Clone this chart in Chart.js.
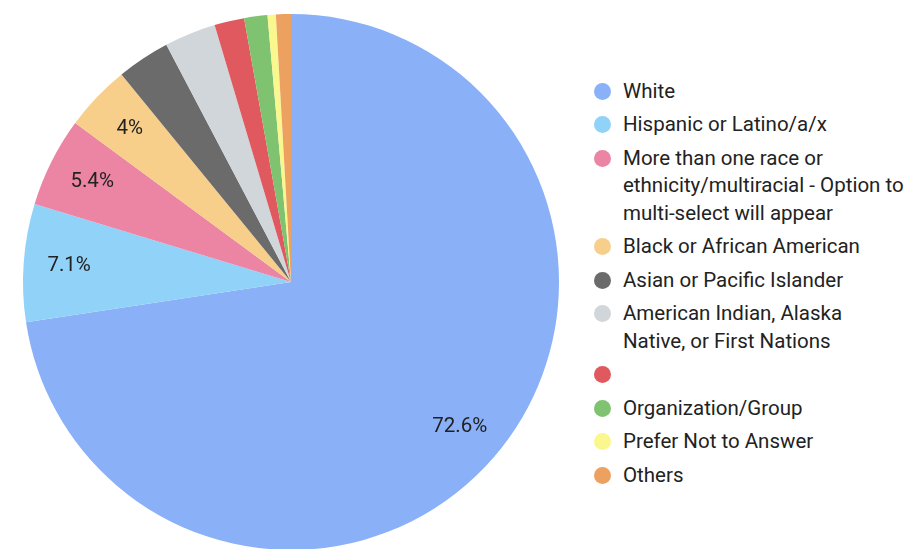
<!DOCTYPE html>
<html lang="en">
<head>
    <meta charset="UTF-8">
    <title>Race / Ethnicity</title>
    <script src="https://cdn.jsdelivr.net/npm/chart.js"></script>
    <style>
        html, body { margin: 0; padding: 0; background: #fff; }
        body { width: 912px; height: 549px; overflow: hidden; position: relative; font-family: Roboto, "Noto Sans", sans-serif; }
        #chartBox { position: absolute; left: 0; top: 0; width: 582px; height: 550px; }
        #legend { position: absolute; left: 594px; top: 77.5px; width: 318px; list-style: none; margin: 0; padding: 0; }
        #legend li { position: relative; padding-left: 29px; font-size: 20.5px; line-height: 27.5px; color: #222; margin-bottom: 6px; min-height: 27.5px; white-space: nowrap; }
        #legend li span.dot { position: absolute; left: 0; top: 5px; width: 17px; height: 17px; border-radius: 50%; }
    </style>
</head>
<body>
    <div id="chartBox"><canvas id="pieChart"></canvas></div>
    <ul id="legend"></ul>

    <script>
        const categories = [
            'White',
            'Hispanic or Latino/a/x',
            'More than one race or ethnicity/multiracial - Option to multi-select will appear',
            'Black or African American',
            'Asian or Pacific Islander',
            'American Indian, Alaska Native, or First Nations',
            '',
            'Organization/Group',
            'Prefer Not to Answer',
            'Others'
        ];
        // legend line breaks
        const legendLines = [
            ['White'],
            ['Hispanic or Latino/a/x'],
            ['More than one race or', 'ethnicity/multiracial - Option to', 'multi-select will appear'],
            ['Black or African American'],
            ['Asian or Pacific Islander'],
            ['American Indian, Alaska', 'Native, or First Nations'],
            [''],
            ['Organization/Group'],
            ['Prefer Not to Answer'],
            ['Others']
        ];
        const percents = [72.6, 7.1, 5.4, 4.0, 3.2, 3.1, 1.8, 1.4, 0.5, 0.9];
        const sliceColors = [
            '#8ab0f8', '#91d2f9', '#ec84a4', '#f7cf8b', '#6b6b6b',
            '#d1d6da', '#e0595f', '#7fc26f', '#fbf78f', '#eca160'
        ];

        // percentage text inside larger slices
        const sliceLabels = {
            id: 'sliceLabels',
            afterDatasetsDraw(chart) {
                const ctx = chart.ctx;
                const meta = chart.getDatasetMeta(0);
                ctx.save();
                ctx.font = '20.5px Roboto, "Noto Sans", sans-serif';
                ctx.fillStyle = '#222';
                ctx.textAlign = 'center';
                ctx.textBaseline = 'middle';
                meta.data.forEach((arc, i) => {
                    if (percents[i] < 4) return;
                    const mid = (arc.startAngle + arc.endAngle) / 2;
                    const r = arc.outerRadius * 0.83;
                    ctx.fillText(percents[i] + '%', arc.x + Math.cos(mid) * r, arc.y + Math.sin(mid) * r);
                });
                ctx.restore();
            }
        };

        const chart = new Chart(document.getElementById('pieChart'), {
            type: 'pie',
            data: {
                labels: categories,
                datasets: [{
                    data: percents,
                    backgroundColor: sliceColors,
                    borderWidth: 0
                }]
            },
            options: {
                responsive: true,
                maintainAspectRatio: false,
                animation: false,
                layout: { padding: { top: 14, left: 23, right: 23, bottom: 0 } },
                plugins: {
                    legend: { display: false },
                    tooltip: { enabled: false }
                }
            },
            plugins: [sliceLabels]
        });

        const legend = document.getElementById('legend');
        legendLines.forEach((lines, i) => {
            const li = document.createElement('li');
            const dot = document.createElement('span');
            dot.className = 'dot';
            dot.style.background = sliceColors[i];
            li.appendChild(dot);
            lines.forEach((t, j) => {
                if (j > 0) li.appendChild(document.createElement('br'));
                li.appendChild(document.createTextNode(t));
            });
            legend.appendChild(li);
        });
    </script>
</body>
</html>
